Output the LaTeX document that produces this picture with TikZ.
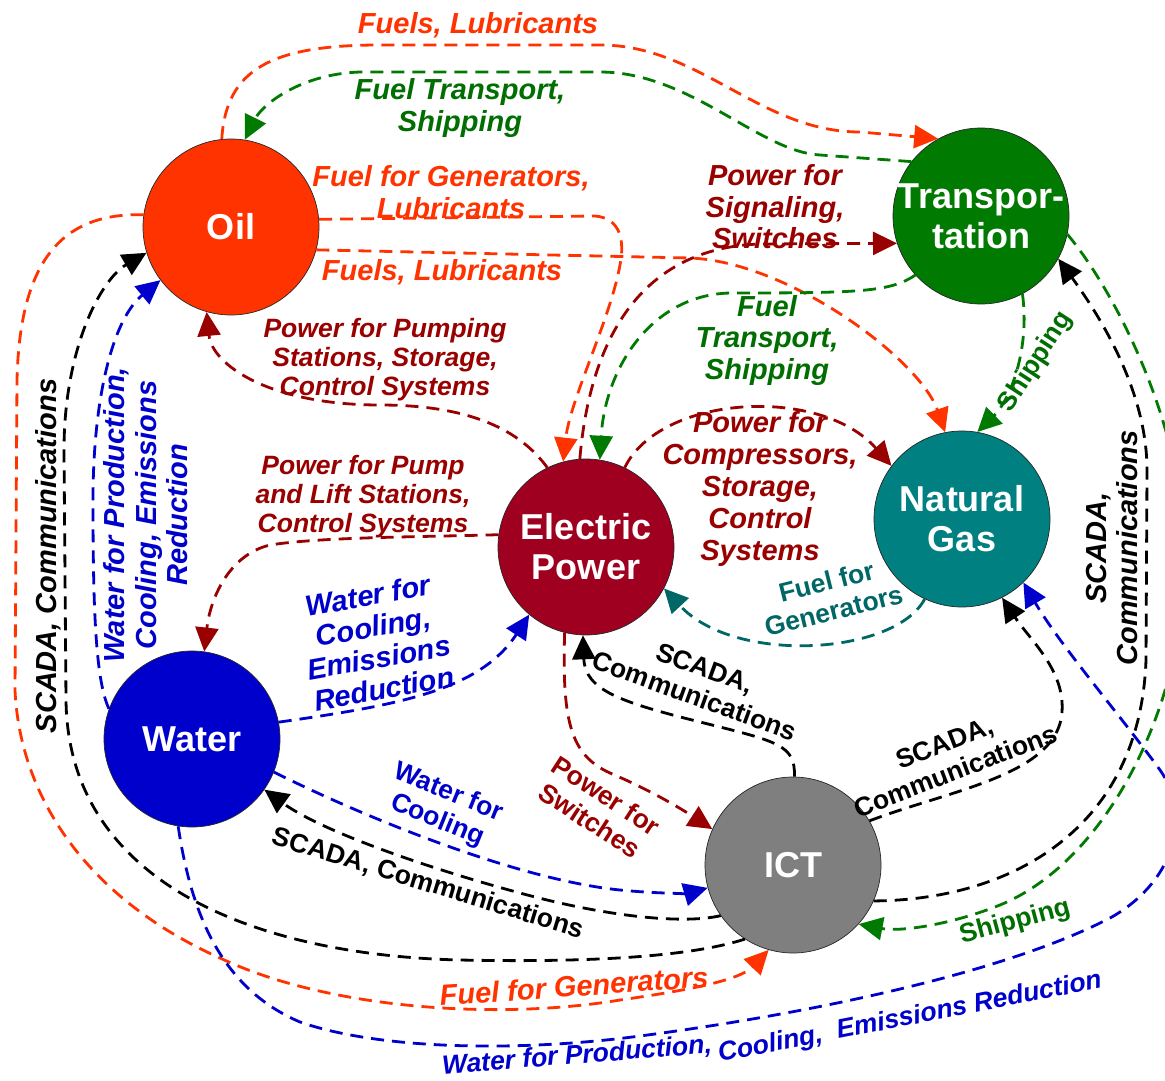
\documentclass[tikz,border=0pt]{standalone}
\usepackage{fontspec}
\setmainfont{Liberation Sans}
\usetikzlibrary{arrows.meta}
\definecolor{oilc}{HTML}{FF3300}
\definecolor{transc}{HTML}{007A00}
\definecolor{transt}{HTML}{006E00}
\definecolor{gasc}{HTML}{008080}
\definecolor{tealc}{HTML}{006666}
\definecolor{elecc}{HTML}{A00020}
\definecolor{redc}{HTML}{990000}
\definecolor{waterc}{HTML}{0000CC}
\definecolor{ictc}{HTML}{7F7F7F}
\begin{document}
\begin{tikzpicture}[x=1pt,y=-1pt,
  hub/.style={circle, draw=black!85, line width=0.7pt, minimum size=176pt, inner sep=0pt},
  hubtext/.style={text=white, font=\fontsize{36}{40}\selectfont\bfseries, align=center, inner sep=0pt},
  flow/.style={line width=2.8pt, dash pattern=on 13pt off 8pt, -{Triangle[length=24pt,width=23pt]}},
  lab/.style={font=\fontsize{29}{31.5}\selectfont\bfseries\itshape, align=center, inner sep=0pt},
  labs/.style={font=\fontsize{26.5}{29}\selectfont\bfseries\itshape, align=center, inner sep=0pt},
  labu/.style={font=\fontsize{26.5}{30}\selectfont\bfseries, align=center, inner sep=0pt},
]
\useasboundingbox (0,0) rectangle (1165,1081);
\fill[white] (0,0) rectangle (1165,1081);

% hubs
\node[hub, fill=oilc] (oil) at (231,227) {};
\node[hub, fill=transc] (trans) at (981,216) {};
\node[hub, fill=gasc] (gas) at (962,519) {};
\node[hub, fill=elecc] (elec) at (586,547) {};
\node[hub, fill=waterc] (water) at (192,739) {};
\node[hub, fill=ictc] (ict) at (793,865) {};
\node[hubtext] (oilT) at (oil) {Oil};
\node[hubtext] (transT) at (trans) {Transpor-\\tation};
\node[hubtext] (gasT) at (gas) {Natural\\Gas};
\node[hubtext] (elecT) at (elec) {Electric\\Power};
\node[hubtext] (waterT) at (water) {Water};
\node[hubtext] (ictT) at (ict) {ICT};

% connectors
\draw[flow, oilc] (oil.96) .. controls (226,70) and (270,45) .. (380,45) -- (600,45) .. controls (700,45) and (760,132) .. (860,132) -- (trans.119);
\draw[flow, transc] (trans.142) -- (820,155) .. controls (760,152) and (690,72) .. (600,72) -- (360,72) .. controls (300,74) and (262,105) .. (oil.81);
\draw[flow, oilc] (oil.5) -- (595,216) .. controls (620,218) and (625,240) .. (620,265) .. controls (610,320) and (570,400) .. (elec.105);
\draw[flow, oilc] (oil.-15) -- (690,258) .. controls (790,262) and (920,360) .. (gas.101);
\draw[flow, redc] (elec.94) .. controls (590,340) and (640,248) .. (760,244) -- (trans.198);
\draw[flow, transc] (trans.-138) .. controls (890,292) and (860,293) .. (730,293) .. controls (650,295) and (605,370) .. (elec.81);
\draw[flow, transc] (trans.-62) .. controls (1030,350) and (1010,400) .. (gas.80);
\draw[flow, redc] (elec.116) .. controls (520,430) and (470,405) .. (380,405) .. controls (270,405) and (212,365) .. (oil.-106);
\draw[flow, redc] (elec.172) .. controls (420,537) and (320,537) .. (270,545) .. controls (228,555) and (210,600) .. (water.82);
\draw[flow, redc] (elec.64) .. controls (660,395) and (820,385) .. (gas.143);
\draw[flow, tealc] (gas.-115) .. controls (895,655) and (735,665) .. (elec.-28);
\draw[flow, waterc] (water.11) .. controls (400,705) and (480,690) .. (elec.-130);
\draw[flow, waterc] (water.160) .. controls (95,680) and (93,600) .. (93,500) .. controls (93,400) and (112,320) .. (oil.-143);
\draw[flow, black] (ict.-123) .. controls (680,960) and (560,962) .. (460,960) .. controls (250,955) and (68,880) .. (66,700) -- (64,450) .. controls (64,350) and (100,280) .. (oil.-163);
\draw[flow, oilc] (oil.172) .. controls (70,213) and (20,250) .. (17,380) -- (15,690) .. controls (20,800) and (90,900) .. (220,958) .. controls (330,1010) and (500,1020) .. (620,1000) .. controls (690,990) and (740,980) .. (ict.-106);
\draw[flow, waterc] (water.-99) .. controls (192,920) and (225,990) .. (300,1022) .. controls (380,1050) and (520,1052) .. (640,1036) .. controls (800,1015) and (1000,975) .. (1110,918) .. controls (1170,885) and (1195,820) .. (1160,770) .. controls (1120,715) and (1060,645) .. (gas.-46);
\draw[flow, transc] (trans.-12) .. controls (1110,285) and (1185,420) .. (1185,560) .. controls (1185,700) and (1110,860) .. (1000,905) .. controls (950,925) and (900,932) .. (ict.-42);
\draw[flow, black] (ict.-24) .. controls (1010,900) and (1140,830) .. (1146,660) -- (1147,470) .. controls (1147,400) and (1110,330) .. (trans.-29);
\draw[flow, black] (ict.30) .. controls (950,790) and (1058,775) .. (1062,712) .. controls (1065,670) and (1030,640) .. (gas.-63);
\draw[flow, black] (ict.89) .. controls (795,745) and (780,742) .. (700,722) .. controls (620,702) and (585,690) .. (elec.-92);
\draw[flow, redc] (elec.-104) .. controls (562,720) and (570,755) .. (610,773) .. controls (650,790) and (680,808) .. (ict.156);
\draw[flow, waterc] (water.-22) .. controls (370,820) and (520,880) .. (620,890) .. controls (660,894) and (690,893) .. (ict.-165);
\draw[flow, black] (ict.-145) .. controls (680,925) and (600,915) .. (520,893) .. controls (420,866) and (320,830) .. (water.-35);

% labels
\node[lab, text=oilc] (l1) at (478,25) {Fuels, Lubricants};
\node[lab, text=transt] (l2) at (460,108) {Fuel Transport,\\Shipping};
\node[lab, text=oilc] (l3) at (451,192) {Fuel for Generators,\\Lubricants};
\node[lab, text=oilc] (l4) at (442,272) {Fuels, Lubricants};
\node[lab, text=redc] (l5) at (775,207) {Power for\\Signaling,\\Switches};
\node[labs, text=redc] (l6) at (385,360) {Power for Pumping\\Stations, Storage,\\Control Systems};
\node[lab, text=transt] (l7) at (767,340) {Fuel\\Transport,\\Shipping};
\node[labu, text=transt, rotate=57] (l8) at (1036,362) {Shipping};
\node[lab, text=redc, font=\fontsize{29}{32}\selectfont\bfseries\itshape] (l9) at (760,489) {Power for\\Compressors,\\Storage,\\Control\\Systems};
\node[labs, text=redc] (l10) at (363,497) {Power for Pump\\and Lift Stations,\\Control Systems};
\node[labu, text=tealc, rotate=14] (l11) at (830,596) {Fuel for\\Generators};
\node[lab, text=waterc, rotate=10] (l12) at (376,642) {Water for\\Cooling,\\Emissions\\Reduction};
\node[lab, text=waterc, rotate=90] (l13) at (146,515) {Water for Production,\\Cooling, Emissions\\Reduction};
\node[lab, text=black, rotate=90] (l14) at (48,556) {SCADA, Communications};
\node[lab, text=black, rotate=90] (l15) at (1112,548) {SCADA,\\Communications};
\node[labu, text=black, rotate=-20] (l16) at (700,682) {SCADA,\\Communications};
\node[labu, text=black, rotate=21] (l17) at (950,757) {SCADA,\\Communications};
\node[labu, text=redc, rotate=-33] (l18) at (598,808) {Power for\\Switches};
\node[labu, text=waterc, rotate=-22] (l19) at (443,807) {Water for\\Cooling};
\node[labu, text=black, rotate=-17] (l20) at (428,884) {SCADA, Communications};
\node[labu, text=transt, rotate=15] (l21) at (1015,922) {Shipping};
\node[lab, text=oilc, rotate=4] (l22) at (574,986) {Fuel for Generators};
\node[labs, text=waterc, rotate=4.5] (l23a) at (577,1056) {Water for Production,};
\node[labs, text=waterc, rotate=11] (l23b) at (910,1018) {Cooling,~ Emissions Reduction};
\end{tikzpicture}
\end{document}
